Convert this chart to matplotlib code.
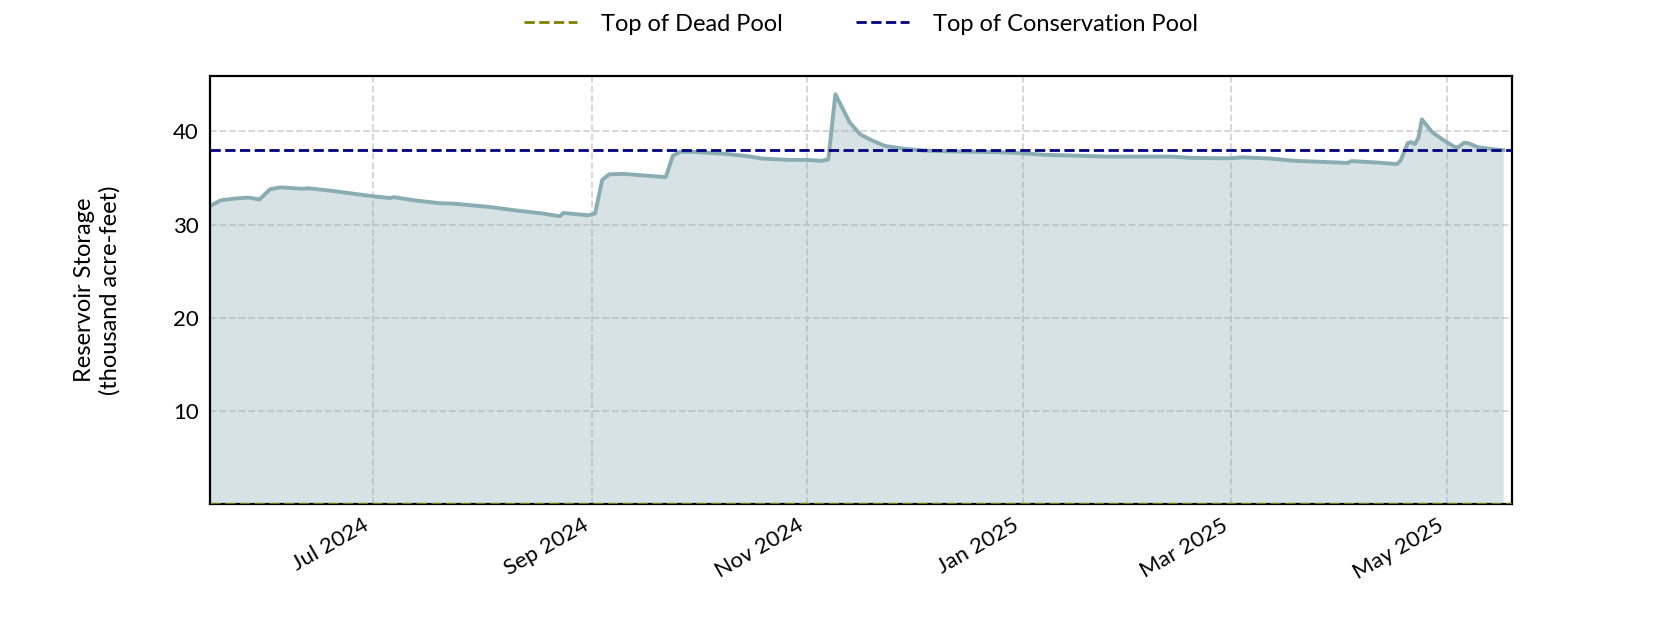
import matplotlib
matplotlib.use("Agg")
import matplotlib.pyplot as plt
import matplotlib.dates as mdates
import pandas as pd

plt.rcParams['font.family'] = ['Lato', 'DejaVu Sans']

dates = [
    "2024-05-16", "2024-05-19", "2024-05-23", "2024-05-27", "2024-05-30",
    "2024-06-02", "2024-06-05", "2024-06-11", "2024-06-13", "2024-06-20",
    "2024-06-26", "2024-07-01", "2024-07-06", "2024-07-07", "2024-07-13",
    "2024-07-20", "2024-07-24", "2024-08-03", "2024-08-10", "2024-08-18",
    "2024-08-23", "2024-08-24", "2024-08-31", "2024-09-02", "2024-09-04",
    "2024-09-06", "2024-09-10", "2024-09-15", "2024-09-22", "2024-09-24",
    "2024-09-26", "2024-09-30", "2024-10-09", "2024-10-16", "2024-10-19",
    "2024-10-27", "2024-11-01", "2024-11-05", "2024-11-07", "2024-11-08",
    "2024-11-09", "2024-11-11", "2024-11-13", "2024-11-16", "2024-11-19",
    "2024-11-23", "2024-11-28", "2024-12-04", "2024-12-13", "2024-12-26",
    "2025-01-01", "2025-01-07", "2025-01-19", "2025-01-25", "2025-02-12",
    "2025-02-18", "2025-03-01", "2025-03-04", "2025-03-12", "2025-03-19",
    "2025-03-26", "2025-04-03", "2025-04-04", "2025-04-12", "2025-04-17",
    "2025-04-18", "2025-04-20", "2025-04-21", "2025-04-22", "2025-04-23",
    "2025-04-24", "2025-04-27", "2025-04-30", "2025-05-03", "2025-05-04",
    "2025-05-06", "2025-05-07", "2025-05-10", "2025-05-14", "2025-05-17",
]
storage = [
    32.0, 32.6, 32.8, 32.9, 32.7,
    33.8, 34.0, 33.85, 33.9, 33.6,
    33.3, 33.05, 32.85, 32.95, 32.6,
    32.3, 32.25, 31.9, 31.55, 31.2,
    30.9, 31.25, 31.0, 31.2, 34.8,
    35.4, 35.45, 35.3, 35.1, 37.4,
    37.8, 37.8, 37.6, 37.3, 37.1,
    36.95, 36.95, 36.85, 37.0, 40.5,
    44.0, 42.5, 41.0, 39.7, 39.1,
    38.45, 38.17, 37.95, 37.85, 37.77,
    37.66, 37.5, 37.37, 37.3, 37.3,
    37.16, 37.12, 37.22, 37.1, 36.85,
    36.75, 36.62, 36.82, 36.65, 36.5,
    36.9, 38.75, 38.85, 38.65, 39.3,
    41.3, 39.9, 39.1, 38.4, 38.25,
    38.8, 38.75, 38.3, 38.1, 38.0,
]
dead_pool = 0.0
conservation_pool = 38.0
x_start = "2024-05-16"
x_end = "2025-05-19 12:00"

x = pd.to_datetime(dates)

fig = plt.figure(figsize=(16.8, 6.3), dpi=100)
ax = fig.add_axes([0.125, 0.2, 0.775, 0.68])

ax.grid(True, linestyle='--', color='#d4d4d4', linewidth=1.3, zorder=0)
ax.set_axisbelow(True)
ax.fill_between(x, storage, 0, color='#8AADB3', alpha=0.35, linewidth=0, zorder=1)
ax.plot(x, storage, color='#8AADB3', linewidth=2.8, zorder=2)
ax.axhline(dead_pool, color='#808000', linestyle='--', linewidth=2, label='Top of Dead Pool', zorder=3)
ax.axhline(conservation_pool, color='#000080', linestyle='--', linewidth=2, label='Top of Conservation Pool', zorder=3)

ax.set_xlim(pd.Timestamp(x_start), pd.Timestamp(x_end))
ax.set_ylim(0, 46)
ax.set_yticks([10, 20, 30, 40])
ax.xaxis.set_major_locator(mdates.MonthLocator(bymonth=[1, 3, 5, 7, 9, 11]))
ax.xaxis.set_major_formatter(mdates.DateFormatter('%b %Y'))
ax.tick_params(length=0, pad=8, labelsize=16)
for lbl in ax.get_xticklabels():
    lbl.set_rotation(30)
    lbl.set_ha('right')

for s in ax.spines.values():
    s.set_color('black')
    s.set_linewidth(1.6)

ax.set_ylabel('Reservoir Storage\n(thousand acre-feet)', fontsize=17, labelpad=38)

ax.legend(loc='center', bbox_to_anchor=(0.5, 1.12), ncol=2, frameon=False,
          fontsize=17, handlelength=2.25, handletextpad=1.0, columnspacing=3.1)

fig.savefig('out.png', dpi=100)
